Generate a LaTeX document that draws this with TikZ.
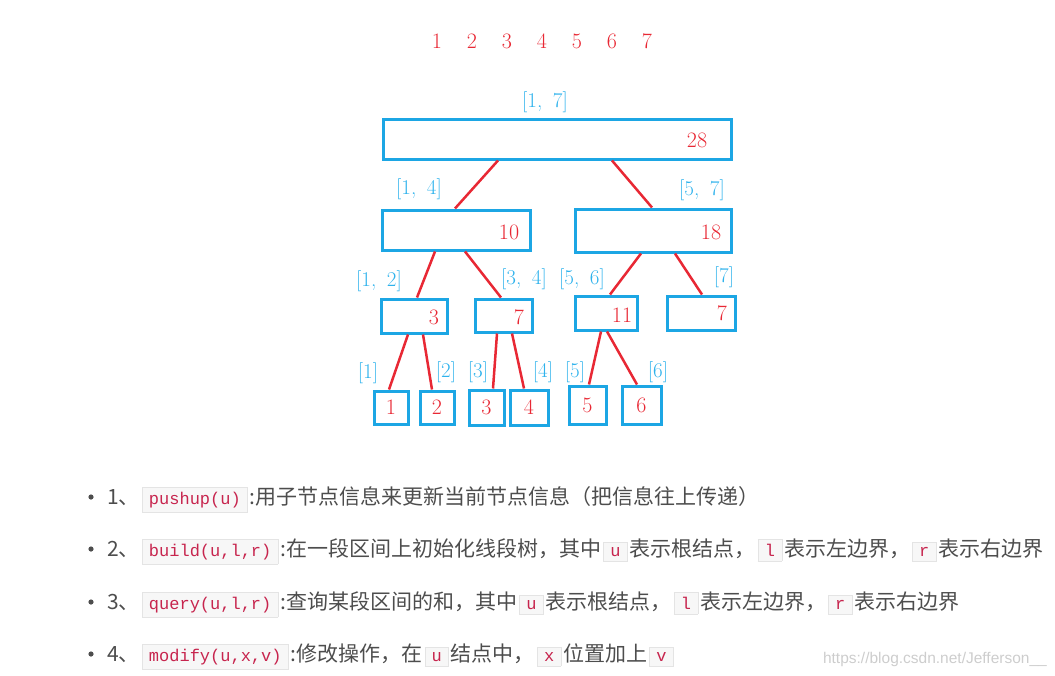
\documentclass[tikz,border=0pt]{standalone}
\usepackage{fontspec}
\newfontfamily\cjk{Noto Sans CJK SC}
\newfontfamily\codefont{Liberation Mono}
\newfontfamily\wmfont{Liberation Sans}

\definecolor{boxblue}{RGB}{28,166,228}
\definecolor{lblblue}{RGB}{46,178,236}
\definecolor{segred}{RGB}{232,40,52}
\definecolor{textgray}{RGB}{77,77,77}
\definecolor{codered}{RGB}{199,37,78}
\definecolor{codebg}{RGB}{247,247,247}
\definecolor{codeline}{RGB}{228,228,228}
\definecolor{wmgray}{RGB}{205,205,205}

\newcommand\code[1]{\hspace{2pt}{\setlength{\fboxsep}{4.5pt}\setlength{\fboxrule}{0.6pt}%
  \fcolorbox{codeline}{codebg}{\hspace{2pt}\codefont\fontsize{17}{20}\selectfont\color{codered}#1\hspace{2pt}}}\hspace{2pt}}

\tikzset{
  seg/.style={draw=boxblue, line width=3pt, inner sep=0pt},
  val/.style={text=segred, font=\fontsize{22}{24}\selectfont, inner sep=0pt},
  rng/.style={text=lblblue, font=\fontsize{21}{24}\selectfont, inner sep=0pt},
  edge/.style={draw=segred, line width=2.5pt},
  item/.style={anchor=base west, inner sep=0pt, text=textgray, font=\cjk\fontsize{21}{24}\selectfont}
}

\begin{document}
\begin{tikzpicture}[x=1pt, y=-1pt]
  \useasboundingbox (0,0) rectangle (1055,675);

  % the array
  \foreach \i in {1,...,7}
    \node[val] (a\i) at ({402+35*\i},41) {\i};

  % segment boxes
  \node[seg, minimum width=348, minimum height=40] (r17) at (557,139) {};
  \node[seg, minimum width=148, minimum height=40] (r14) at (456,230) {};
  \node[seg, minimum width=156, minimum height=43] (r57) at (653,230.5) {};
  \node[seg, minimum width=66, minimum height=34] (r12) at (414,316) {};
  \node[seg, minimum width=57, minimum height=33] (r34) at (503.5,315.5) {};
  \node[seg, minimum width=62, minimum height=34] (r56) at (606,313) {};
  \node[seg, minimum width=68, minimum height=34] (r77) at (701,313) {};

  % leaves
  \node[seg, val, text=segred, minimum width=34, minimum height=33] (l1) at (391,407.5) {1};
  \node[seg, val, text=segred, minimum width=34, minimum height=33] (l2) at (437,407.5) {2};
  \node[seg, val, text=segred, minimum width=35, minimum height=35] (l3) at (486.5,407.5) {3};
  \node[seg, val, text=segred, minimum width=38, minimum height=35] (l4) at (529,407.5) {4};
  \node[seg, val, text=segred, minimum width=37, minimum height=38] (l5) at (587.5,405) {5};
  \node[seg, val, text=segred, minimum width=39, minimum height=38] (l6) at (641.5,405) {6};

  % sums
  \node[val] (v17) at (697,140) {28};
  \node[val] (v14) at (509,232) {10};
  \node[val] (v57) at (711,232) {18};
  \node[val] (v12) at (434,317) {3};
  \node[val] (v34) at (519,317) {7};
  \node[val] (v56) at (622,315) {11};
  \node[val] (v77) at (722,313) {7};

  % ranges
  \node[rng] (t17) at (545,102) {[1,\enspace7]};
  \node[rng] (t14) at (419,189) {[1,\enspace4]};
  \node[rng] (t57) at (702,190) {[5,\enspace7]};
  \node[rng] (t12) at (379,281) {[1,\enspace2]};
  \node[rng] (t34) at (524,279) {[3,\enspace4]};
  \node[rng] (t56) at (582,279) {[5,\enspace6]};
  \node[rng] (t77) at (724,277) {[7]};
  \node[rng] (t1) at (368,373) {[1]};
  \node[rng] (t2) at (446,372) {[2]};
  \node[rng] (t3) at (478,372) {[3]};
  \node[rng] (t4) at (543,372) {[4]};
  \node[rng] (t5) at (575,372) {[5]};
  \node[rng] (t6) at (658,372) {[6]};

  % tree edges
  \draw[edge] ([xshift=-59]r17.south) -- ([xshift=-1]r14.north);
  \draw[edge] ([xshift=55]r17.south) -- ([xshift=-1]r57.north);
  \draw[edge] ([xshift=-21]r14.south) -- ([xshift=3]r12.north);
  \draw[edge] ([xshift=9]r14.south) -- ([xshift=-2.5]r34.north);
  \draw[edge] ([xshift=-12]r57.south) -- ([xshift=4]r56.north);
  \draw[edge] ([xshift=22]r57.south) -- ([xshift=1]r77.north);
  \draw[edge] ([xshift=-6]r12.south) -- ([xshift=-2]l1.north);
  \draw[edge] ([xshift=9]r12.south) -- ([xshift=-5]l2.north);
  \draw[edge] ([xshift=-6.5]r34.south) -- ([xshift=6.5]l3.north);
  \draw[edge] ([xshift=8.5]r34.south) -- ([xshift=-5]l4.north);
  \draw[edge] ([xshift=-5]r56.south) -- ([xshift=1.5]l5.north);
  \draw[edge] ([xshift=1]r56.south) -- ([xshift=-4.5]l6.north);

  % function list
  \foreach \y in {497,549,602,654}
    \fill[textgray] (91,\y) circle (2.6);
  \node[item] (f1) at (107,504) {1、\code{pushup(u)}:用子节点信息来更新当前节点信息（把信息往上传递）};
  \node[item] (f2) at (107,556) {2、\code{build(u,l,r)}:在一段区间上初始化线段树，其中\code{u}表示根结点，\code{l}表示左边界，\code{r}表示右边界};
  \node[item] (f3) at (107,609) {3、\code{query(u,l,r)}:查询某段区间的和，其中\code{u}表示根结点，\code{l}表示左边界，\code{r}表示右边界};
  \node[item] (f4) at (107,661) {4、\code{modify(u,x,v)}:修改操作，在\code{u}结点中，\code{x}位置加上\code{v}};

  \node[anchor=base east, inner sep=0pt, text=wmgray, font=\wmfont\fontsize{15.5}{18}\selectfont] (wm) at (1047,663) {https://blog.csdn.net/Jefferson\_\_};
\end{tikzpicture}
\end{document}
